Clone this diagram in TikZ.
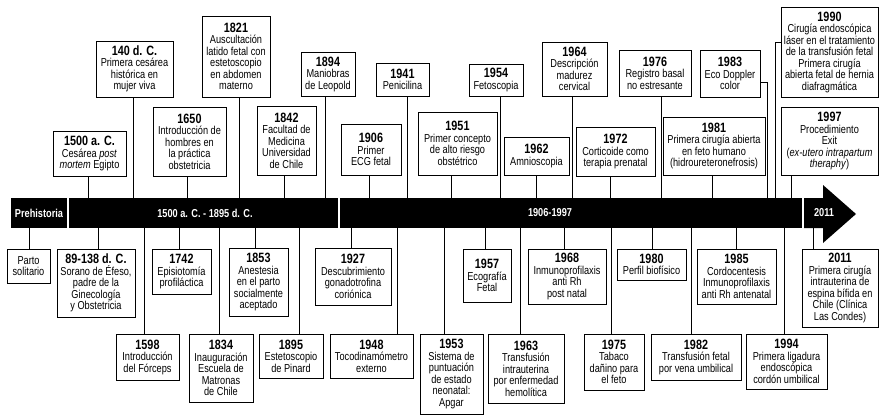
\documentclass[tikz,border=0pt]{standalone}
\usepackage{fontspec}
\setmainfont{Liberation Sans}[FakeStretch=0.8]
\newcommand\yrb[1]{{\fontsize{13.5}{12.5}\selectfont\bfseries #1}}
\newcommand\evb[6]{\node[ev, minimum width={#4pt-#2pt}, minimum height={#5pt-#3pt}] (#1) at ({(#2+#4)/2},{(#3+#5)/2}) {#6};}
\newcommand\upc[3]{\draw[con] ([xshift=#3pt]#1.south) -- ([xshift=#3pt]#1.south |- #2.north);}
\newcommand\dnc[3]{\draw[con] ([xshift=#3pt]#1.north) -- ([xshift=#3pt]#1.north |- #2.south);}
\begin{document}
\begin{tikzpicture}[x=1pt,y=-1pt,
  ev/.style={draw, line width=1pt, fill=white, align=center, inner sep=1pt, font=\fontsize{11.5}{11.5}\selectfont},
  con/.style={line width=1pt},
  bar/.style={fill=black, draw=none, inner sep=0pt, minimum height=30pt},
  bartxt/.style={text=white, inner sep=0pt, font=\fontsize{11.5}{12}\selectfont\bfseries}]
\useasboundingbox (0,0) rectangle (879,415);

% timeline bar
\node[bar, minimum width=56pt] (b1) at (39,213) {};
\node[bar, minimum width=269pt] (b2) at (203.5,213) {};
\node[bar, minimum width=462pt] (b3) at (571,213) {};
\fill (804,198) -- (823,198) -- (823,185) -- (856,214) -- (823,243) -- (823,228) -- (804,228) -- cycle;
\coordinate (arrb) at (813,228);
\coordinate (c1983) at (767,198);
\coordinate (c1990) at (775,198);
\node[bartxt] (t1) at (39,213) {Prehistoria};
\node[bartxt] (t2) at (205,213) {1500 a. C. - 1895 d. C.};
\node[bartxt] (t3) at (550,213) {1906-1997};
\node[bartxt] (t4) at (824,213) {2011};

% top events
\evb{n1500}{53}{131}{126}{176}{\yrb{1500 a. C.}\\Cesárea \textit{post}\\\textit{mortem} Egipto}
\evb{n140}{96}{41}{173}{97}{\yrb{140 d. C.}\\Primera cesárea\\histórica en\\mujer viva}
\evb{n1650}{153}{107}{226}{176}{\yrb{1650}\\Introducción de\\hombres en\\la práctica\\obstetricia}
\evb{n1821}{202}{16}{270}{97}{\yrb{1821}\\Auscultación\\latido fetal con\\estetoscopio\\en abdomen\\materno}
\evb{n1842}{257}{106}{316}{175}{\yrb{1842}\\Facultad de\\Medicina\\Universidad\\de Chile}
\evb{n1894}{301}{52}{355}{96}{\yrb{1894}\\Maniobras\\de Leopold}
\evb{n1906}{341}{124}{401}{175}{\yrb{1906}\\Primer\\ECG fetal}
\evb{n1941}{376}{63}{429}{96}{\yrb{1941}\\Penicilina}
\evb{n1951}{418}{112}{497}{175}{\yrb{1951}\\Primer concepto\\de alto riesgo\\obstétrico}
\evb{n1954}{469}{64}{523}{96}{\yrb{1954}\\Fetoscopia}
\evb{n1962}{504}{137}{569}{175}{\yrb{1962}\\Amnioscopia}
\evb{n1964}{542}{42}{607}{96}{\yrb{1964}\\Descripción\\madurez\\cervical}
\evb{n1972}{576}{127}{655}{176}{\yrb{1972}\\Corticoide como\\terapia prenatal}
\evb{n1976}{619}{50}{691}{96}{\yrb{1976}\\Registro basal\\no estresante}
\evb{n1981}{663}{117}{765}{175}{\yrb{1981}\\Primera cirugía abierta\\en feto humano\\(hidroureteronefrosis)}
\evb{n1983}{700}{50}{760}{97}{\yrb{1983}\\Eco Doppler\\color}
\evb{n1990}{781}{7}{878}{97}{\yrb{1990}\\Cirugía endoscópica\\láser en el tratamiento\\de la transfusión fetal\\Primera cirugía\\abierta fetal de hernia\\diafragmática}
\evb{n1997}{781}{107}{878}{175}{\yrb{1997}\\Procedimiento\\Exit\\(\textit{ex-utero intrapartum}\\\textit{theraphy})}

% bottom events
\evb{nparto}{7}{249}{50}{283}{Parto\\solitario}
\evb{n89}{57}{249}{135}{317}{\yrb{89-138 d. C.}\\Sorano de Éfeso,\\padre de la\\Ginecología\\y Obstetricia}
\evb{n1742}{152}{249}{211}{294}{\yrb{1742}\\Episiotomía\\profiláctica}
\evb{n1598}{116}{334}{179}{380}{\yrb{1598}\\Introducción\\del Fórceps}
\evb{n1834}{189}{334}{253}{402}{\yrb{1834}\\Inauguración\\Escuela de\\Matronas\\de Chile}
\evb{n1853}{229}{248}{288}{316}{\yrb{1853}\\Anestesia\\en el parto\\socialmente\\aceptado}
\evb{n1895}{259}{334}{323}{378}{\yrb{1895}\\Estetoscopio\\de Pinard}
\evb{n1927}{315}{248}{391}{305}{\yrb{1927}\\Descubrimiento\\gonadotrofina\\coriónica}
\evb{n1948}{330}{334}{413}{378}{\yrb{1948}\\Tocodinamómetro\\externo}
\evb{n1953}{420}{334}{483}{414}{\yrb{1953}\\Sistema de\\puntuación\\de estado\\neonatal:\\Apgar}
\evb{n1957}{463}{249}{511}{302}{\yrb{1957}\\Ecografía\\Fetal}
\evb{n1963}{488}{334}{564}{403}{\yrb{1963}\\Transfusión\\intrauterina\\por enfermedad\\hemolítica}
\evb{n1968}{528}{249}{606}{304}{\yrb{1968}\\Inmunoprofilaxis\\anti Rh\\post natal}
\evb{n1975}{584}{334}{644}{390}{\yrb{1975}\\Tabaco\\dañino para\\el feto}
\evb{n1980}{617}{249}{686}{280}{\yrb{1980}\\Perfil biofísico}
\evb{n1982}{651}{334}{741}{380}{\yrb{1982}\\Transfusión fetal\\por vena umbilical}
\evb{n1985}{697}{249}{776}{304}{\yrb{1985}\\Cordocentesis\\Inmunoprofilaxis\\anti Rh antenatal}
\evb{n1994}{746}{334}{827}{389}{\yrb{1994}\\Primera ligadura\\endoscópica\\cordón umbilical}
\evb{n2011}{802}{249}{878}{327}{\yrb{2011}\\Primera cirugía\\intrauterina de\\espina bífida en\\Chile (Clínica\\Las Condes)}

% top connectors
\upc{n1500}{b2}{-1.5}
\upc{n140}{b2}{-1.5}
\upc{n1650}{b2}{-2.5}
\upc{n1821}{b2}{3}
\upc{n1842}{b2}{-2.5}
\upc{n1894}{b2}{-3}
\upc{n1906}{b3}{-2}
\upc{n1941}{b3}{4.5}
\upc{n1951}{b3}{-6.5}
\upc{n1954}{b3}{4}
\upc{n1962}{b3}{-0.5}
\upc{n1964}{b3}{-2.5}
\upc{n1972}{b3}{-5.5}
\upc{n1976}{b3}{6}
\upc{n1981}{b3}{-2}
\upc{n1997}{b3}{-38.5}
\draw[con] ([yshift=-8.5pt]n1983.east) -| (c1983);
\draw[con] ([yshift=10pt]n1990.west) -| (c1990);

% bottom connectors
\dnc{nparto}{b1}{0.5}
\dnc{n89}{b2}{2}
\dnc{n1742}{b2}{-2.5}
\dnc{n1598}{b2}{-3.5}
\dnc{n1834}{b2}{-2}
\dnc{n1853}{b2}{-3.5}
\dnc{n1895}{b2}{8}
\dnc{n1927}{b3}{-2}
\dnc{n1948}{b3}{25.5}
\dnc{n1953}{b3}{-7.5}
\dnc{n1957}{b3}{-2}
\dnc{n1963}{b3}{-6}
\dnc{n1968}{b3}{-3}
\dnc{n1975}{b3}{-3}
\dnc{n1980}{b3}{0.5}
\dnc{n1982}{b3}{-5}
\dnc{n1985}{b3}{-0.5}
\dnc{n1994}{b3}{-2.5}
\draw[con] ([xshift=-27pt]n2011.north) -- ([xshift=-27pt]n2011.north |- arrb);
\end{tikzpicture}
\end{document}
